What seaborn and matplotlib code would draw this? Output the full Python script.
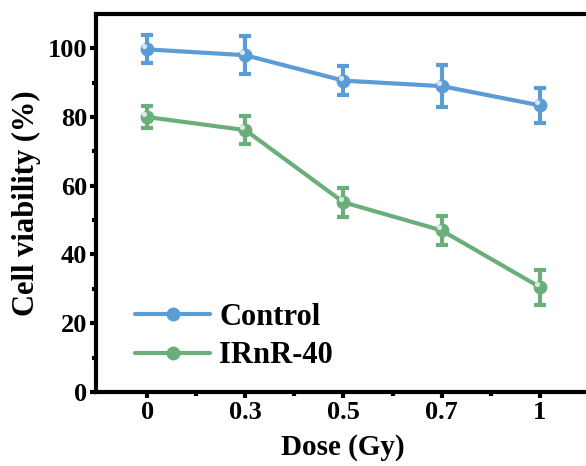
import matplotlib
matplotlib.use("Agg")
import matplotlib.pyplot as plt
from matplotlib.ticker import FixedLocator
import seaborn as sns
import pandas as pd
import numpy as np

# Data
doses = ["0", "0.3", "0.5", "0.7", "1"]
control_mean = [99.7, 98.0, 90.6, 89.0, 83.4]
control_err = [4.1, 5.6, 4.2, 6.1, 5.1]
irnr_mean = [80.0, 76.2, 55.2, 47.0, 30.5]
irnr_err = [3.2, 4.0, 4.2, 4.3, 5.1]
series_names = ["Control", "IRnR-40"]
colors = ["#5B9BD6", "#6AAE7C"]

sns.set_theme(style="white")
plt.rcParams["font.family"] = ["Liberation Serif", "DejaVu Serif"]
plt.rcParams["font.weight"] = "bold"
plt.rcParams["text.color"] = "black"
plt.rcParams["axes.labelcolor"] = "black"

pos = np.arange(len(doses))
df = pd.DataFrame({
    "pos": np.concatenate([pos, pos]),
    "viability": control_mean + irnr_mean,
    "err": control_err + irnr_err,
    "group": [series_names[0]] * len(doses) + [series_names[1]] * len(doses),
})

fig = plt.figure(figsize=(5.86, 4.66), dpi=100)
ax = fig.add_axes([0.164, 0.159, 0.841, 0.811])

sns.lineplot(data=df, x="pos", y="viability", hue="group",
             palette=colors, linewidth=3.0, marker="o", markersize=10,
             markeredgewidth=0, ax=ax, legend=False, zorder=3)

for name, c in zip(series_names, colors):
    sub = df[df["group"] == name]
    ax.errorbar(sub["pos"], sub["viability"], yerr=sub["err"], fmt="none",
                ecolor=c, elinewidth=3.0, capsize=4, capthick=3, zorder=2)
    # soft highlight on the markers
    ax.scatter(sub["pos"] - 0.03, sub["viability"] + 0.9, s=14,
               color="white", alpha=0.75, linewidths=0, zorder=4)

ax.set_xlim(-0.52, 4.5)
ax.set_ylim(0, 110)
ax.set_xticks(pos)
ax.set_xticklabels(doses)
ax.xaxis.set_minor_locator(FixedLocator(pos[:-1] + 0.5))
ax.yaxis.set_major_locator(FixedLocator([0, 20, 40, 60, 80, 100]))
ax.yaxis.set_minor_locator(FixedLocator([10, 30, 50, 70, 90]))

for s in ax.spines.values():
    s.set_linewidth(3)
    s.set_color("black")
    s.set_visible(True)

ax.tick_params(axis="both", which="major", direction="out", length=4.5,
               width=3, labelsize=19, color="black", labelcolor="black",
               bottom=True, left=True, pad=2)
ax.tick_params(axis="both", which="minor", direction="out", length=3,
               width=3, color="black", bottom=True, left=True)
for lab in ax.get_xticklabels() + ax.get_yticklabels():
    lab.set_fontweight("bold")

ax.set_xlabel("Dose (Gy)", fontsize=21, fontweight="bold", labelpad=7)
ax.set_ylabel("Cell viability (%)", fontsize=22, fontweight="bold", labelpad=5)

handles = [plt.Line2D([], [], color=c, linewidth=3.0, marker="o",
                      markersize=10, markeredgewidth=0) for c in colors]
leg = ax.legend(handles, series_names, loc="lower left",
                bbox_to_anchor=(0.055, 0.025), frameon=False,
                prop={"family": "Liberation Serif", "weight": "bold", "size": 22},
                handlelength=2.45, handletextpad=0.3, labelspacing=0.3,
                borderaxespad=0.0)

fig.savefig("out.png", dpi=100)
